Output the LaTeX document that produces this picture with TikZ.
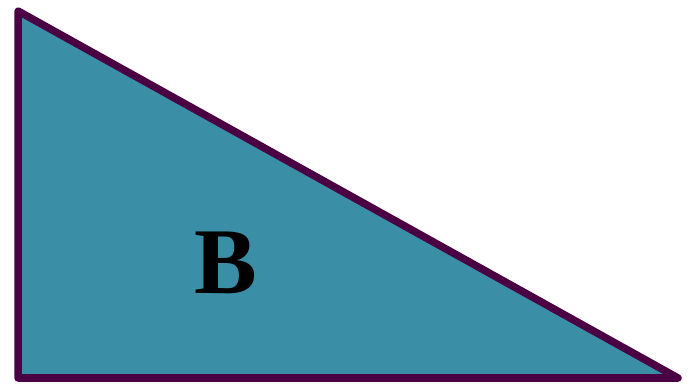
\documentclass[tikz,border=0pt]{standalone}
\usepackage{fontspec}
\setmainfont{Liberation Serif}
\definecolor{tealfill}{HTML}{3A8FA7}
\definecolor{plumline}{HTML}{4A0042}
\begin{document}
\begin{tikzpicture}[x=1pt,y=-1pt]
\useasboundingbox (0,0) rectangle (691,387);
\coordinate (A) at (18,11);
\coordinate (C) at (18,378);
\coordinate (D) at (678,378);
\draw[fill=tealfill,draw=plumline,line width=7.5pt,line join=round] (A) -- (C) -- (D) -- cycle;
\node[inner sep=0pt,anchor=base,font=\fontsize{94}{94}\selectfont\bfseries] (lbl) at (226,294) {B};
\end{tikzpicture}
\end{document}
